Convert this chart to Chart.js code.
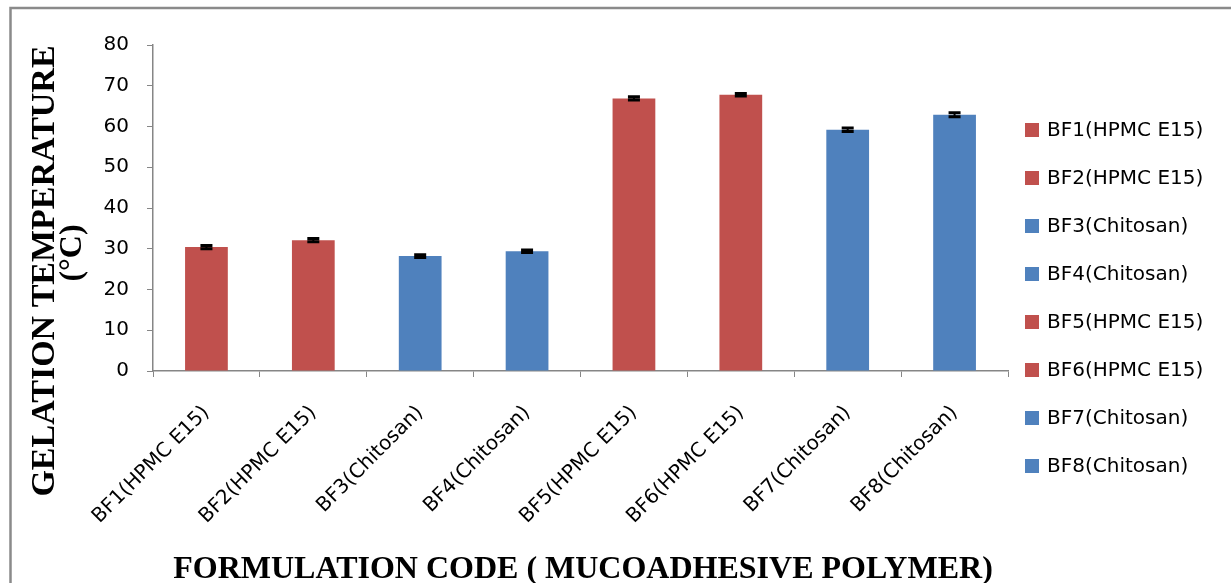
<!DOCTYPE html>
<html>
<head>
<meta charset="utf-8">
<script src="https://cdn.jsdelivr.net/npm/chart.js@4/dist/chart.umd.min.js"></script>
<style>
  html, body { margin: 0; padding: 0; background: #fff; }
  #wrap { width: 1231px; height: 583px; position: relative; }
</style>
</head>
<body>
<div id="wrap"><canvas id="c" width="1231" height="583"></canvas></div>
<script>
// ---- Data ----
const categories = ['BF1(HPMC E15)', 'BF2(HPMC E15)', 'BF3(Chitosan)', 'BF4(Chitosan)',
                    'BF5(HPMC E15)', 'BF6(HPMC E15)', 'BF7(Chitosan)', 'BF8(Chitosan)'];
const gelationTemp = [30.4, 32.1, 28.2, 29.4, 66.9, 67.8, 59.2, 62.9];
const errorSD = [0.4, 0.4, 0.35, 0.3, 0.4, 0.3, 0.45, 0.5];
const polymer = ['HPMC', 'HPMC', 'Chitosan', 'Chitosan', 'HPMC', 'HPMC', 'Chitosan', 'Chitosan'];
const yTicks = [0, 10, 20, 30, 40, 50, 60, 70, 80];
const yTitleLines = ['GELATION TEMPERATURE', '(°C)'];
const xTitle = 'FORMULATION CODE ( MUCOADHESIVE POLYMER)';

const colorMap = { HPMC: '#C0504D', Chitosan: '#4F81BD' };
const barColors = polymer.map(p => colorMap[p]);
const AXIS = '#868686';
const TICK_FONT = { family: 'DejaVu Sans', size: 20 };

const decorPlugin = {
  id: 'decor',
  beforeDraw(chart) {
    const ctx = chart.ctx;
    ctx.save();
    ctx.fillStyle = '#fff';
    ctx.fillRect(0, 0, chart.width, chart.height);
    ctx.strokeStyle = '#8a8a8a';
    ctx.lineWidth = 2.5;
    ctx.strokeRect(10.5, 8, chart.width + 20, chart.height + 20);
    ctx.restore();
  },
  afterDatasetsDraw(chart) {
    const ctx = chart.ctx;
    const meta = chart.getDatasetMeta(0);
    const ys = chart.scales.y;
    ctx.save();
    ctx.strokeStyle = '#000';
    meta.data.forEach((bar, i) => {
      const v = gelationTemp[i], e = errorSD[i];
      const yt = ys.getPixelForValue(v + e), yb = ys.getPixelForValue(v - e);
      const x = bar.x;
      ctx.lineWidth = 2;
      ctx.beginPath(); ctx.moveTo(x, yt); ctx.lineTo(x, yb); ctx.stroke();
      ctx.lineWidth = 3;
      ctx.beginPath();
      ctx.moveTo(x - 6, yt); ctx.lineTo(x + 6, yt);
      ctx.moveTo(x - 6, yb); ctx.lineTo(x + 6, yb);
      ctx.stroke();
    });
    ctx.restore();
  },
  afterDraw(chart) {
    const ctx = chart.ctx;
    ctx.save();
    // axis titles
    ctx.fillStyle = '#000';
    ctx.font = 'bold 32px "Liberation Serif"';
    ctx.textAlign = 'center';
    ctx.textBaseline = 'alphabetic';
    ctx.fillText(xTitle, 583, 578);
    ctx.font = 'bold 34px "Liberation Serif"';
    ctx.save();
    ctx.translate(54, 271);
    ctx.rotate(-Math.PI / 2);
    ctx.fillText(yTitleLines[0], 0, 0);
    ctx.restore();
    ctx.font = 'bold 32px "Liberation Serif"';
    ctx.save();
    ctx.translate(81, 253);
    ctx.rotate(-Math.PI / 2);
    ctx.fillText(yTitleLines[1], 0, 0);
    ctx.restore();
    // legend
    ctx.font = '20px "DejaVu Sans"';
    ctx.textAlign = 'left';
    ctx.textBaseline = 'middle';
    categories.forEach((lab, i) => {
      const cy = 130 + i * 48;
      ctx.fillStyle = barColors[i];
      ctx.fillRect(1025, cy - 7, 14, 14);
      ctx.fillStyle = '#000';
      ctx.fillText(lab, 1047, cy + 1);
    });
    ctx.restore();
  }
};

new Chart(document.getElementById('c'), {
  type: 'bar',
  data: {
    labels: categories,
    datasets: [{
      data: gelationTemp,
      backgroundColor: barColors,
      borderWidth: 0,
      barPercentage: 0.4,
      categoryPercentage: 1.0
    }]
  },
  options: {
    responsive: false,
    animation: false,
    devicePixelRatio: 1,
    layout: { padding: { left: 0, top: 45, right: 223, bottom: 0 } },
    plugins: { legend: { display: false }, tooltip: { enabled: false } },
    scales: {
      x: {
        afterFit(s) { s.height = 212; },
        grid: { drawOnChartArea: false, drawTicks: true, tickLength: 6, color: AXIS, offset: true },
        border: { color: AXIS, width: 1.5 },
        ticks: { color: '#000', font: TICK_FONT, minRotation: 45, maxRotation: 45, padding: 24, autoSkip: false }
      },
      y: {
        min: 0, max: 80,
        afterFit(s) { s.width = 153; },
        afterBuildTicks(s) { s.ticks = yTicks.map(v => ({ value: v })); },
        grid: { drawOnChartArea: false, drawTicks: true, tickLength: 6, color: AXIS },
        border: { color: AXIS, width: 1.5 },
        ticks: { color: '#000', font: TICK_FONT, padding: 18 }
      }
    }
  },
  plugins: [decorPlugin]
});
</script>
</body>
</html>
